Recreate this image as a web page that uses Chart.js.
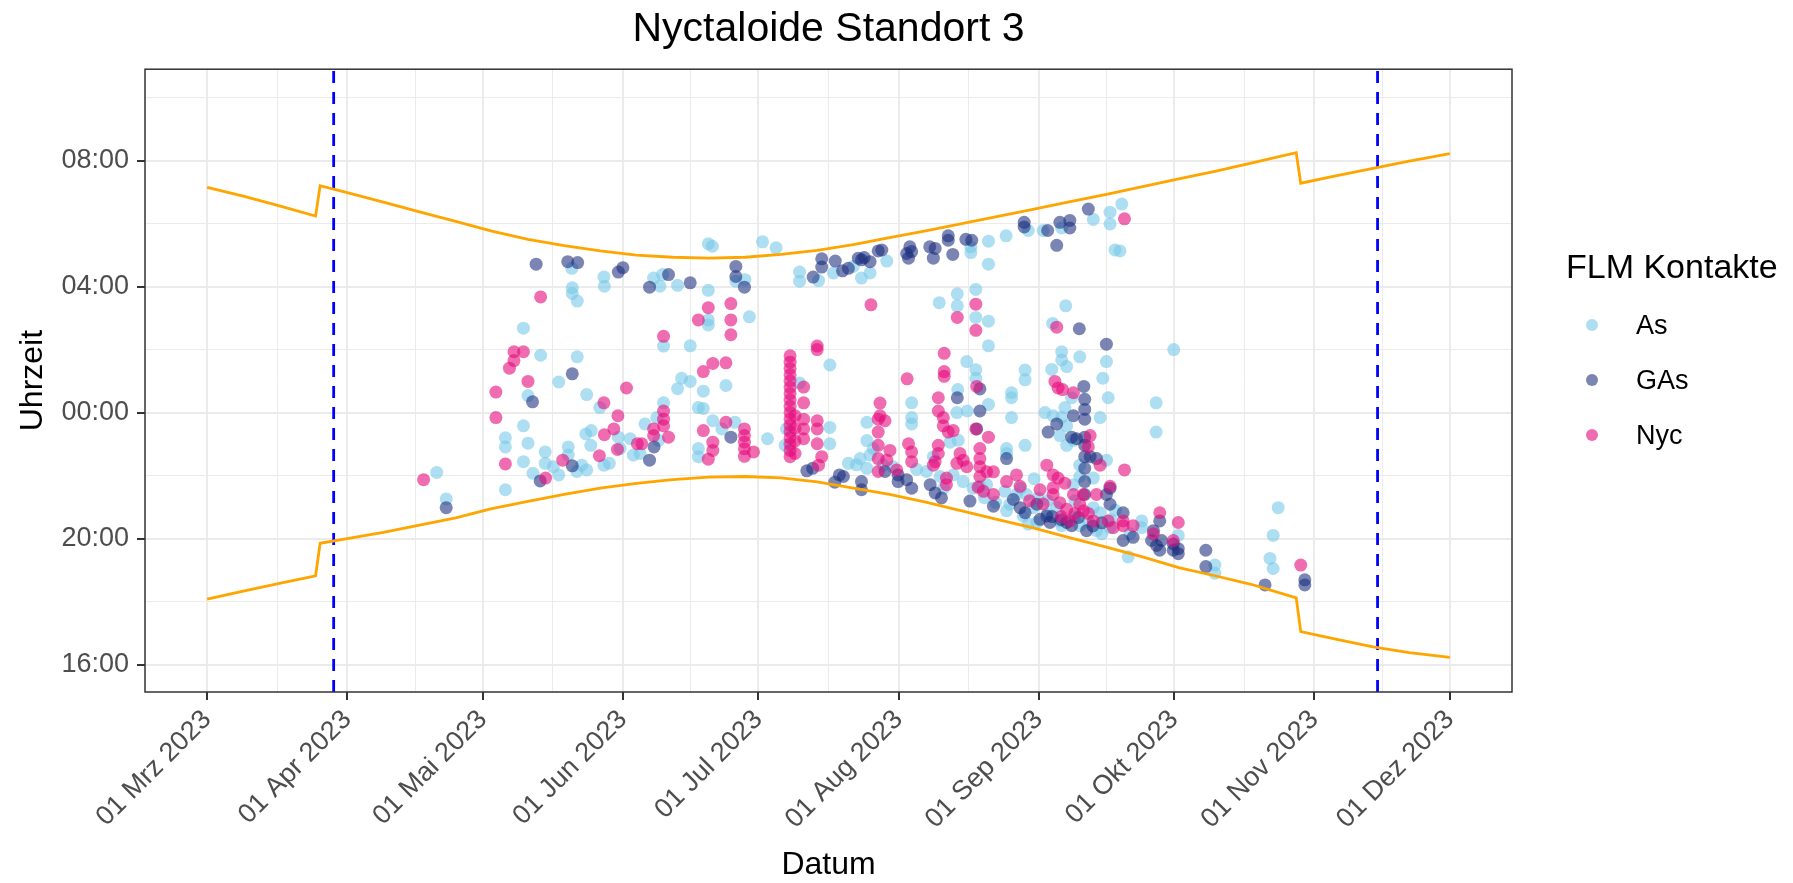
<!DOCTYPE html>
<html>
<head>
<meta charset="utf-8">
<title>Nyctaloide Standort 3</title>
<script src="https://cdn.jsdelivr.net/npm/chart.js@4/dist/chart.umd.min.js"></script>
<style>
  html, body { margin: 0; padding: 0; background: #fff; }
  #wrap { width: 1793px; height: 883px; }
</style>
</head>
<body>
<div id="wrap"><canvas id="chart" width="1793" height="883"></canvas></div>
<script>
// x: Tage seit 01.03.2023, y: Uhrzeit in Stunden (00:00 = 24, 08:00 = 32)
const monthTicks = [0, 31, 61, 92, 122, 153, 184, 214, 245, 275];
const monthLabels = ['01 Mrz 2023', '01 Apr 2023', '01 Mai 2023', '01 Jun 2023', '01 Jul 2023',
  '01 Aug 2023', '01 Sep 2023', '01 Okt 2023', '01 Nov 2023', '01 Dez 2023'];
const minorXTicks = [15.5, 46, 76.5, 107, 137.5, 168.5, 199, 229.5, 260];
const majorYTicks = [16, 20, 24, 28, 32];
const minorYTicks = [18, 22, 26, 30, 34];

// Sonnenaufgang / Sonnenuntergang (Sprung bei der Zeitumstellung)
const sunDays = [0, 8, 16, 24, 25, 31, 39, 47, 55, 63, 71, 79, 87, 95, 103, 111, 119, 127, 135, 143, 151,
  159, 167, 175, 183, 191, 199, 207, 215, 223, 231, 241, 242, 250, 258, 266, 275];
const sunrise = [31.15, 30.87, 30.56, 30.24, 31.2, 30.98, 30.68, 30.37, 30.07, 29.76, 29.5, 29.3, 29.13,
  29.0, 28.93, 28.9, 28.93, 29.02, 29.15, 29.33, 29.55, 29.77, 30.0, 30.23, 30.46, 30.7, 30.93, 31.17,
  31.42, 31.66, 31.92, 32.25, 31.28, 31.52, 31.75, 31.98, 32.22];
const sunset = [18.08, 18.33, 18.58, 18.82, 19.85, 20.0, 20.2, 20.43, 20.66, 20.95, 21.18, 21.4, 21.6,
  21.75, 21.87, 21.95, 21.97, 21.93, 21.8, 21.6, 21.4, 21.16, 20.88, 20.6, 20.33, 20.02, 19.73, 19.42,
  19.08, 18.82, 18.55, 18.12, 17.05, 16.8, 16.56, 16.38, 16.23];
const dstDays = [28, 259];

const asPoints = [
  [80.7,28.58],[87.8,28.30],[87.9,28.01],[80.8,27.96],[80.8,27.78],[81.9,27.54],[70.0,26.68],[73.8,25.82],
  [81.9,25.77],[77.8,24.97],[71.0,24.54],[84.0,24.57],
  [70.0,23.58],[66.0,23.20],[66.0,22.91],[71.0,23.03],[70.0,22.44],[74.8,22.75],[74.8,22.39],[72.1,22.07],
  [66.0,21.55],[77.8,22.02],[79.9,22.91],[79.9,22.65],[82.9,22.33],[81.8,22.13],[84.0,22.18],[76.6,22.28],
  [86.9,24.16],[83.8,23.32],[85.0,23.43],[84.9,22.96],[91.0,23.22],[87.8,22.33],[89.0,22.39],[91.4,22.86],
  [93.6,23.17],[94.3,22.65],[50.8,22.10],[52.9,21.26],
  [110.9,29.36],[111.8,29.28],[122.9,29.42],[125.9,29.23],[98.8,28.27],[100.2,28.01],[100.8,28.38],[104.1,28.04],
  [110.9,27.88],[117.0,28.17],[119.0,28.22],[110.9,26.94],[110.9,26.78],[120.0,27.04],[101.0,26.11],[106.9,26.12],
  [105.0,25.09],[106.9,24.99],[104.1,24.76],[109.8,24.68],[114.8,24.86],[137.8,25.51],[131.1,24.94],[131.1,28.46],
  [131.1,28.17],[135.3,28.19],[138.6,28.43],[144.8,28.27],[146.7,28.43],[143.0,28.64],
  [150.4,28.81],[169.0,29.26],[169.0,29.08],[172.9,29.44],[172.9,28.71],[176.8,29.61],[181.7,29.78],[185.0,29.78],
  [189.1,29.86],[196.1,30.13],[199.8,30.36],[199.8,29.99],[200.9,29.16],[162.0,27.49],[166.0,27.77],[166.0,27.39],
  [170.1,27.91],[170.1,27.02],[172.9,26.90],[172.9,26.12],[190.0,27.39],[187.1,26.83],[199.0,25.62],[168.1,25.62],
  [170.1,25.36],[170.1,25.09],[166.1,24.73],[181.0,25.35],[181.0,25.04],[186.9,25.37],[189.1,25.93],[189.1,25.67],
  [190.2,25.46],[193.1,25.77],[198.2,25.09],[178.0,24.63],
  [202.4,30.62],[202.0,29.13],[213.9,26.00],
  [101.0,24.31],[96.9,23.64],[99.5,23.84],[99.9,23.12],[95.8,22.70],[108.7,24.16],[109.8,24.13],[111.9,23.74],
  [113.9,23.48],[116.8,23.69],[108.7,22.86],[108.7,22.60],[124.0,23.17],[128.2,23.48],[127.9,22.96],[137.8,23.53],
  [137.8,23.01],[141.9,22.39],[143.7,22.34],[146.0,22.23],[144.5,22.54],[146.7,22.65],[147.4,22.86],[146.0,23.69],
  [146.0,23.11],
  [155.9,24.31],[155.9,23.84],[155.9,23.64],[172.9,24.26],[178.0,23.84],[178.0,24.47],[149.6,22.33],[151.8,22.28],
  [165.9,24.0],[168.2,24.05],[166.2,23.12],[164.4,23.06],[160.7,22.6],[159.2,22.13],[162.2,21.97],[165.1,22.02],
  [167.3,21.81],[169.5,21.6],[171.0,21.66],[172.5,21.71],[176.9,22.86],[176.9,22.70],[181.0,22.96],[176.5,21.50],
  [177.6,21.09],[176.9,20.88],[179.1,21.4],[181.3,21.4],[182.8,20.98],[183.9,21.29],[189.1,20.41],[188.7,20.56],
  [185.4,24.0],[187.2,23.9],[189.1,23.85],[190.2,23.58],[191.3,24.47],[189.8,24.16],[188.7,23.27],[190.2,22.96],
  [191.7,23.12],[193.1,22.33],[193.1,21.97],[191.7,21.71],[196.1,21.92],[196.1,20.98],[197.6,20.82],[193.1,20.41],
  [199.8,20.35],[196.8,20.25],[199.0,22.49],[197.6,23.84],[199.4,24.47],[183.6,20.51],[181.7,20.46],[180.6,20.72],
  [172.0,21.3],[174.5,21.15],[186.0,20.8],[192.0,20.7],[195.0,20.55],[198.0,20.15],[157.0,22.2],[163.0,21.6],
  [180.0,21.6],[183.0,21.9],[186.0,21.2],[188.0,21.0],[192.0,21.2],[200.0,20.6],[201.0,20.9],
  [210.0,24.31],[210.0,23.38],[206.8,20.56],[206.8,20.35],[204.2,20.15],[203.8,19.42],[214.9,20.10],[223.0,19.16],
  [223.0,18.9],[237.0,20.98],[235.9,20.1],[235.2,19.37],[235.9,19.05]
];

const gasPoints = [
  [72.8,28.71],[79.8,28.79],[82.0,28.76],[92.0,28.60],[91.0,28.46],[80.8,25.23],
  [72.0,24.34],[73.7,21.83],[80.8,22.31],[52.9,20.98],
  [97.9,27.98],[102.1,28.38],[106.9,28.12],[117.0,28.64],[117.0,28.32],[118.9,27.98],[136.0,28.88],[136.0,28.62],
  [139.0,28.81],[140.6,28.50],[141.9,28.58],[134.1,28.30],[144.1,28.90],[145.4,28.92],[146.7,28.79],[148.5,29.13],
  [144.8,28.85],
  [149.3,29.16],[155.5,29.26],[154.8,29.05],[155.9,29.11],[155.2,28.90],[159.9,29.26],[161.1,29.21],[160.7,28.90],
  [164.0,29.61],[164.0,29.47],[165.0,29.02],[167.9,29.50],[169.2,29.47],[180.8,30.04],[180.8,29.89],[186.0,29.78],
  [188.7,30.04],[190.9,30.10],[190.9,29.86],[188.0,29.31],[195.0,30.46],[193.0,26.66],[199.0,26.17],[171.0,24.75],
  [194.0,24.83],
  [98.9,22.91],[97.9,22.49],[115.9,23.22],[134.0,22.23],[132.7,22.15],[138.9,21.79],[140.8,21.97],[139.9,22.02],
  [144.8,21.81],[144.8,21.55],
  [166.0,24.47],[150.0,22.13],[152.9,21.81],[154.8,21.87],[155.9,21.60],[152.9,22.02],[171.0,24.05],[170.3,23.48],
  [160.0,21.71],[161.1,21.45],[162.5,21.29],[168.8,21.19],[174.0,21.03],[176.9,22.54],[178.4,21.24],[179.9,20.98],
  [181.0,20.82],[183.6,21.09],[184.3,20.61],[186.5,20.51],[185.8,20.72],[186.1,23.38],[188.0,23.64],[191.7,23.90],
  [191.3,23.22],[192.4,23.17],[194.2,24.42],[194.2,24.1],[194.2,23.79],[194.2,23.22],[194.2,22.96],[194.2,22.6],
  [194.2,22.23],[194.2,21.81],[194.2,21.4],[195.4,22.6],[196.8,22.54],[191.3,20.41],[194.6,20.25],[190.2,20.51],
  [192.8,20.67],[199.8,21.6],[199.8,21.09],[199.0,21.4],[187.0,20.7],[189.0,20.6],[196.0,20.4],[198.0,20.5],
  [202.7,20.82],[204.9,20.04],[202.7,19.94],[210.8,20.56],[209.4,20.25],[209.0,19.94],[210.1,19.78],[211.2,19.94],
  [210.8,19.63],[214.9,19.68],[213.8,19.83],[213.8,19.63],[214.9,19.52],[221.0,19.63],[221.0,19.11],[234.1,18.53],
  [242.9,18.69],[242.9,18.53]
];

const nycPoints = [
  [73.8,27.67],[67.9,25.93],[70.0,25.93],[67.9,25.65],[66.9,25.41],[71.0,24.99],[63.9,24.65],[92.8,24.78],
  [63.9,23.84],[66.0,22.37],[74.9,21.92],[78.7,22.49],[87.8,24.31],[90.9,23.90],[90.0,23.48],[87.9,23.30],
  [86.8,22.63],[90.8,22.83],[95.2,23.01],[47.9,21.87],
  [110.9,27.33],[115.9,27.46],[108.7,26.94],[115.9,26.94],[115.9,26.47],[101.0,26.42],[111.9,25.56],[114.8,25.58],
  [109.8,25.30],[135.0,26.11],[135.0,26.0],[132.0,24.81],[146.9,27.42],
  [129.0,25.8],[129.0,25.6],[129.0,25.4],[129.0,25.2],[129.0,25.0],[129.0,24.8],[129.0,24.6],[129.0,24.4],
  [129.0,24.2],[129.0,24.0],[129.0,23.8],[129.0,23.6],[129.0,23.4],[129.0,23.2],[129.0,23.0],[129.0,22.8],
  [129.0,22.6],[130.1,23.9],[130.1,23.5],[130.1,23.1],[130.1,22.7],
  [101.0,24.05],[101.0,23.79],[101.0,23.58],[98.8,23.48],[98.8,23.27],[102.1,23.22],[96.2,23.01],[109.8,23.43],
  [111.9,23.06],[111.9,22.80],[110.9,22.52],[114.8,23.69],[118.9,23.48],[118.9,23.27],[118.9,23.06],[118.9,22.85],
  [118.9,22.61],[120.9,22.75],[132.0,24.31],[132.0,23.79],[132.0,23.48],[132.0,23.17],[135.0,23.74],[135.0,23.48],
  [135.0,23.01],[136.0,22.60],[135.3,22.33],[148.5,23.79],[148.5,23.38],[148.5,22.96],[148.5,22.54],[148.5,22.13],
  [161.8,24.47],[148.9,24.3],[148.9,23.9],[150.0,23.74],[151.1,22.80],[150.4,22.49],[152.6,22.18],[155.2,23.01],
  [155.9,22.75],[155.9,22.44],[161.8,24.05],[162.9,23.84],[162.9,23.58],[164.0,23.38],[165.1,23.43],[161.8,22.96],
  [161.8,22.70],[170.1,23.48],[172.9,23.22],[166.6,22.70],[167.3,22.49],[165.9,22.39],[168.1,22.28],[171.0,22.86],
  [171.0,22.54],[171.0,22.28],[172.5,22.12],[174.0,22.12],[171.0,21.97],[174.0,21.40],[160.7,22.33],[163.6,21.92],
  [163.6,21.71],[161.1,22.44],[170.6,21.63],[171.8,21.5],[176.9,21.81],[179.1,22.02],[179.9,21.66],[185.8,22.33],
  [187.2,22.02],[184.3,21.55],[187.2,21.61],[188.3,21.92],[187.2,21.4],[188.7,21.14],[190.2,20.93],[190.9,20.56],
  [189.8,21.76],[191.7,21.4],[193.1,21.09],[193.9,21.4],[195.0,22.91],[195.4,23.27],[193.9,20.88],[196.1,20.56],
  [196.8,21.4],[200.5,20.35],[199.4,20.56],[197.6,22.33],[199.8,21.66],[182.0,21.2],[185.0,21.1],[189.0,20.7],
  [192.0,20.8],[195.0,20.8],
  [170.1,27.44],[166.0,27.02],[170.1,26.61],[188.0,26.71],[163.1,25.88],[163.1,25.30],[163.1,25.15],[154.9,25.07],
  [170.3,24.83],[187.6,24.99],[188.3,24.78],[189.3,24.73],[191.7,24.63],
  [203.0,30.15],
  [203.0,22.18],[202.7,20.56],[202.7,20.41],[204.9,20.41],[210.8,20.82],[209.4,20.15],[214.9,20.51],[213.8,19.94],
  [242.0,19.16]
];

const X_MIN = -13.75, X_MAX = 288.75;
const Y_MIN = 15.13, Y_MAX = 34.9;
const FONT = '"Liberation Sans", Arial, sans-serif';

const toXY = arr => arr.map(([x, y]) => ({ x, y }));
const fmtTime = v => String(v % 24).padStart(2, '0') + ':00';

// Titel über dem Panel zentrieren (wie ggplot)
const centerTitle = {
  id: 'centerTitle',
  afterLayout(chart) {
    const t = chart.titleBlock;
    if (t) { t.left = chart.chartArea.left; t.right = chart.chartArea.right; }
  }
};

// Rahmen um das Panel
const panelBorder = {
  id: 'panelBorder',
  afterDatasetsDraw(chart) {
    const { ctx, chartArea: a } = chart;
    ctx.save();
    ctx.strokeStyle = '#333333';
    ctx.lineWidth = 1.5;
    ctx.strokeRect(a.left, a.top, a.right - a.left, a.bottom - a.top);
    ctx.restore();
  }
};

// Legende rechts
const sideLegend = {
  id: 'sideLegend',
  afterDraw(chart) {
    const { ctx, chartArea: a } = chart;
    const x0 = a.right + 54;
    ctx.save();
    ctx.fillStyle = '#000';
    ctx.textBaseline = 'alphabetic';
    ctx.font = '34px ' + FONT;
    ctx.fillText('FLM Kontakte', x0, 278);
    chart.data.datasets.filter(d => d.legend).forEach((d, i) => {
      const y = 325 + i * 55;
      ctx.fillStyle = d.backgroundColor;
      ctx.beginPath();
      ctx.arc(x0 + 26, y, 6, 0, Math.PI * 2);
      ctx.fill();
      ctx.fillStyle = '#000';
      ctx.font = '27px ' + FONT;
      ctx.textBaseline = 'middle';
      ctx.fillText(d.label, x0 + 70, y + 2);
    });
    ctx.restore();
  }
};

function pointSet(label, data, color, order) {
  return {
    label, data: toXY(data), legend: true, order,
    backgroundColor: color, borderWidth: 0, pointRadius: 6.5, pointHoverRadius: 6.5
  };
}

function lineSet(label, xs, ys, color, dash, order) {
  return {
    label, data: xs.map((x, i) => ({ x, y: ys[i] })), showLine: true, order,
    borderColor: color, borderWidth: 2.8, borderDash: dash, pointRadius: 0, fill: false, tension: 0
  };
}

const datasets = [
  lineSet('Sonnenaufgang', sunDays, sunrise, '#FFA500', [], 0),
  lineSet('Sonnenuntergang', sunDays, sunset, '#FFA500', [], 0),
  ...dstDays.map(d => lineSet('Zeitumstellung', [d, d], [Y_MIN, Y_MAX], '#0000FF', [12, 9], 0)),
  pointSet('As', asPoints, 'rgba(120, 200, 232, 0.6)', 3),
  pointSet('GAs', gasPoints, 'rgba(25, 45, 125, 0.58)', 2),
  pointSet('Nyc', nycPoints, 'rgba(230, 10, 125, 0.6)', 1)
];

new Chart(document.getElementById('chart'), {
  type: 'scatter',
  data: { datasets },
  options: {
    responsive: false,
    animation: false,
    layout: { padding: { right: 281, left: 0, top: 0, bottom: 0 } },
    plugins: {
      legend: { display: false },
      tooltip: { enabled: false },
      title: {
        display: true, text: 'Nyctaloide Standort 3', color: '#000',
        font: { family: FONT, size: 41, weight: 'normal', lineHeight: 1.2 },
        padding: { top: 5, bottom: 15 }
      }
    },
    scales: {
      x: {
        type: 'linear', min: X_MIN, max: X_MAX,
        afterBuildTicks: s => {
          s.ticks = monthTicks.concat(minorXTicks).sort((a, b) => a - b).map(v => ({ value: v }));
        },
        afterFit: s => { s.height = 191; },
        ticks: {
          autoSkip: false, minRotation: 45, maxRotation: 45, padding: 4,
          color: '#4D4D4D', font: { family: FONT, size: 27 },
          callback: v => { const i = monthTicks.indexOf(v); return i >= 0 ? monthLabels[i] : ''; }
        },
        grid: {
          color: '#EBEBEB',
          lineWidth: c => (c.tick && monthTicks.includes(c.tick.value)) ? 2 : 1,
          tickColor: c => (c.tick && monthTicks.includes(c.tick.value)) ? '#333333' : 'rgba(0,0,0,0)',
          tickLength: 8, tickWidth: 2
        },
        border: { display: false },
        title: {
          display: true, text: 'Datum', color: '#000',
          font: { family: FONT, size: 32, lineHeight: 1 }, padding: { top: 0, bottom: 2 }
        }
      },
      y: {
        type: 'linear', min: Y_MIN, max: Y_MAX,
        afterBuildTicks: s => {
          s.ticks = majorYTicks.concat(minorYTicks).sort((a, b) => a - b).map(v => ({ value: v }));
        },
        afterFit: s => { s.width = 145; },
        ticks: {
          padding: 8, color: '#4D4D4D', font: { family: FONT, size: 27 },
          callback: v => majorYTicks.includes(v) ? fmtTime(v) : ''
        },
        grid: {
          color: '#EBEBEB',
          lineWidth: c => (c.tick && majorYTicks.includes(c.tick.value)) ? 2 : 1,
          tickColor: c => (c.tick && majorYTicks.includes(c.tick.value)) ? '#333333' : 'rgba(0,0,0,0)',
          tickLength: 8, tickWidth: 2
        },
        border: { display: false },
        title: {
          display: true, text: 'Uhrzeit', color: '#000',
          font: { family: FONT, size: 32, lineHeight: 1.2 }, padding: { top: 14, bottom: 0 }
        }
      }
    }
  },
  plugins: [centerTitle, panelBorder, sideLegend]
});
</script>
</body>
</html>
